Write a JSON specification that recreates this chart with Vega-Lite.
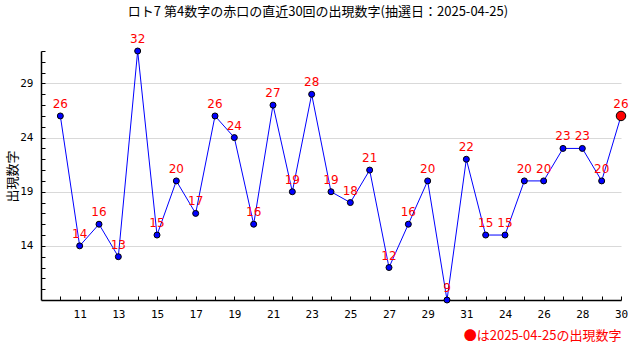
{
  "$schema": "https://vega.github.io/schema/vega-lite/v6.json",
  "width": 580,
  "height": 249,
  "autosize": "none",
  "padding": {"left": 41, "top": 51, "right": 19, "bottom": 60},
  "background": "white",
  "config": {"view": {"stroke": null}},
  "title": {
    "text": "ロト7 第4数字の赤口の直近30回の出現数字(抽選日：2025-04-25)",
    "font": "Noto Sans CJK JP",
    "fontSize": 13,
    "fontWeight": "normal",
    "color": "black",
    "anchor": "middle",
    "offset": 14,
    "dx": -13
  },
  "data": {
    "values": [
      {"i": 1, "v": 26, "last": false},
      {"i": 2, "v": 14, "last": false},
      {"i": 3, "v": 16, "last": false},
      {"i": 4, "v": 13, "last": false},
      {"i": 5, "v": 32, "last": false},
      {"i": 6, "v": 15, "last": false},
      {"i": 7, "v": 20, "last": false},
      {"i": 8, "v": 17, "last": false},
      {"i": 9, "v": 26, "last": false},
      {"i": 10, "v": 24, "last": false},
      {"i": 11, "v": 16, "last": false},
      {"i": 12, "v": 27, "last": false},
      {"i": 13, "v": 19, "last": false},
      {"i": 14, "v": 28, "last": false},
      {"i": 15, "v": 19, "last": false},
      {"i": 16, "v": 18, "last": false},
      {"i": 17, "v": 21, "last": false},
      {"i": 18, "v": 12, "last": false},
      {"i": 19, "v": 16, "last": false},
      {"i": 20, "v": 20, "last": false},
      {"i": 21, "v": 9, "last": false},
      {"i": 22, "v": 22, "last": false},
      {"i": 23, "v": 15, "last": false},
      {"i": 24, "v": 15, "last": false},
      {"i": 25, "v": 20, "last": false},
      {"i": 26, "v": 20, "last": false},
      {"i": 27, "v": 23, "last": false},
      {"i": 28, "v": 23, "last": false},
      {"i": 29, "v": 20, "last": false},
      {"i": 30, "v": 26, "last": true}
    ]
  },
  "encoding": {
    "x": {
      "field": "i",
      "type": "quantitative",
      "scale": {"domain": [0, 30], "nice": false, "zero": false},
      "axis": {
        "values": [1,2,3,4,5,6,7,8,9,10,11,12,13,14,15,16,17,18,19,20,21,22,23,24,25,26,27,28,29,30],
        "labelExpr": "['','11','','13','','15','','17','','19','','21','','23','','25','','27','','29','','31','','24','','26','','28','','30'][datum.value-1]",
        "labelOverlap": false,
        "labelFlush": false,
        "grid": false,
        "tickSize": -4,
        "tickColor": "black",
        "domainColor": "black",
        "domainWidth": 1.5,
        "labelColor": "black",
        "labelFont": "DejaVu Sans Mono",
        "labelFontSize": 11,
        "labelPadding": 12,
        "title": "●は2025-04-25の出現数字",
        "titleColor": "red",
        "titleFont": "Noto Sans CJK JP",
        "titleFontSize": 13,
        "titleFontWeight": "normal",
        "titleAnchor": "end",
        "titlePadding": 10
      }
    },
    "y": {
      "field": "v",
      "type": "quantitative",
      "scale": {"domain": [9, 32], "nice": false, "zero": false},
      "axis": {
        "values": [10,11,12,13,14,15,16,17,18,19,20,21,22,23,24,25,26,27,28,29,30,31,32],
        "labelExpr": "(datum.value - 14) % 5 == 0 ? datum.label : ''",
        "labelOverlap": false,
        "labelFlush": false,
        "tickSize": -4,
        "tickColor": "black",
        "domainColor": "black",
        "domainWidth": 1.5,
        "labelColor": "black",
        "labelFont": "DejaVu Sans Mono",
        "labelFontSize": 11,
        "labelPadding": 12,
        "gridColor": "#d9d9d9",
        "gridOpacity": {"condition": {"test": "(datum.value - 14) % 5 == 0", "value": 1}, "value": 0},
        "title": "出現数字",
        "titleColor": "black",
        "titleFont": "Noto Sans CJK JP",
        "titleFontSize": 13,
        "titleFontWeight": "normal",
        "titleBaseline": "middle",
        "titleX": -29,
        "titleY": 125
      }
    }
  },
  "layer": [
    {"mark": {"type": "line", "color": "blue", "strokeWidth": 1}},
    {
      "mark": {"type": "point", "filled": true, "stroke": "black", "strokeWidth": 1, "opacity": 1},
      "encoding": {
        "fill": {"condition": {"test": "datum.last", "value": "red"}, "value": "blue"},
        "size": {"condition": {"test": "datum.last", "value": 90}, "value": 36}
      }
    },
    {
      "mark": {"type": "text", "color": "red", "dy": -12, "font": "DejaVu Sans", "fontSize": 12},
      "encoding": {"text": {"field": "v", "type": "quantitative"}}
    }
  ]
}
